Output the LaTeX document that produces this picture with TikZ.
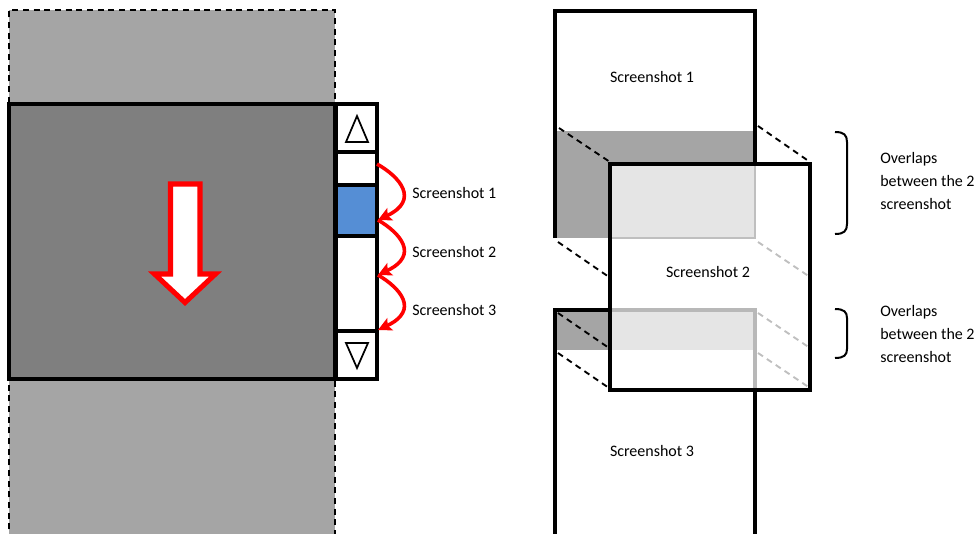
\documentclass[tikz,border=0pt]{standalone}
\usepackage{fontspec}
\setmainfont{Carlito}
\usetikzlibrary{arrows.meta}
\definecolor{lgray}{HTML}{A5A5A5}
\definecolor{dgray}{HTML}{7F7F7F}
\definecolor{thumbblue}{HTML}{558ED5}
\definecolor{pgray}{HTML}{BFBFBF}
\tikzset{
  thickbox/.style={line width=2.4pt, draw=black},
  dashline/.style={line width=1.4pt, dash pattern=on 4.5pt off 3.5pt},
  redarrow/.style={red, line width=2.7pt, -{Stealth[length=10pt,width=10pt,inset=2pt]}},
  lbl/.style={font=\fontsize{12}{14}\selectfont, inner sep=0pt},
  note/.style={font=\fontsize{12}{17.3}\selectfont, inner sep=0pt, align=left, anchor=north west},
  bracket/.style={line width=1.5pt}
}
\begin{document}
\begin{tikzpicture}[x=0.75pt,y=-0.75pt]
\useasboundingbox (0,0) rectangle (975,533);
\clip (0,0) rectangle (975,533);
% ---------------- left panel ----------------
\fill[lgray] (9,10) rectangle (335,540);
\draw[dashline] (9,540) -- (9,10) -- (335,10) -- (335,540);
\draw[thickbox, fill=dgray] (9,104) rectangle (335,379);
% down arrow
\draw[red, line width=3.8pt, fill=white, line join=miter]
  (170.5,184) -- (200,184) -- (200,274) -- (215.5,274) -- (185,302.5)
  -- (154.5,274) -- (170.5,274) -- cycle;
% scrollbar
\draw[thickbox, fill=white] (336,104) rectangle (377,379);
\draw[thickbox] (336,152) -- (377,152);
\draw[thickbox] (336,331) -- (377,331);
\draw[thickbox, fill=thumbblue] (336,185) rectangle (377,236);
\draw[line width=1.3pt, line join=miter] (346,142) -- (357,116) -- (368,142) -- cycle;
\draw[line width=1.3pt, line join=miter] (346,343) -- (368,343) -- (357,368) -- cycle;
\coordinate (p0) at (377,164);
\coordinate (p1) at (378,220);
\coordinate (p2) at (378,275);
\coordinate (p3) at (378,330);
\draw[redarrow] (p0) .. controls (400,177) and (420,200) .. (p1);
\draw[redarrow] (p1) .. controls (400,233) and (420,255) .. (p2);
\draw[redarrow] (p2) .. controls (400,288) and (420,310) .. (p3);
\node[lbl, anchor=west] (l1) at (412,193) {Screenshot 1};
\node[lbl, anchor=west] (l2) at (412,252) {Screenshot 2};
\node[lbl, anchor=west] (l3) at (412,310) {Screenshot 3};
% ---------------- right panel ----------------
% screenshot 1
\fill[white] (555,11) rectangle (755,238);
\fill[lgray] (555,131) rectangle (755,238);
\draw[thickbox, line join=miter] (555,238) -- (555,11) -- (755,11) -- (755,164);
\node[lbl] (s1) at (652,77) {Screenshot 1};
% screenshot 3
\fill[white] (555,310) rectangle (755,540);
\fill[lgray] (555,310) rectangle (755,350);
\draw[thickbox, line join=miter] (555,540) -- (555,310) -- (755,310) -- (755,540);
\node[lbl] (s3) at (652,451) {Screenshot 3};
% screenshot 2 (semi-transparent)
\fill[white, fill opacity=0.72] (610,164) rectangle (810,390);
\draw[pgray, line width=0.8pt] (610,238) -- (755,238) -- (755,164);
\draw[thickbox] (610,164) rectangle (810,390);
\node[lbl] (s2) at (708,272) {Screenshot 2};
% dashed projections
\draw[dashline] (559,128) -- (610,162);
\draw[dashline] (758,126) -- (810,162);
\draw[dashline] (558,242) -- (609,277);
\draw[dashline, pgray] (758,242) -- (810,277);
\draw[dashline] (558,313) -- (609,348);
\draw[dashline, pgray] (758,313) -- (810,348);
\draw[dashline] (558,353) -- (609,388);
\draw[dashline, pgray] (758,353) -- (810,388);
% brackets
\draw[bracket] (835,132) .. controls (844,132) and (847,135) .. (847,142)
  -- (847,224) .. controls (847,231) and (844,234) .. (835,234);
\draw[bracket] (835,309) .. controls (844,309) and (847,312) .. (847,318)
  -- (847,349) .. controls (847,355) and (844,358) .. (835,358);
\node[note] (n1) at (880,152) {Overlaps\\between the 2\\screenshot};
\node[note] (n2) at (880,305) {Overlaps\\between the 2\\screenshot};
\end{tikzpicture}
\end{document}
